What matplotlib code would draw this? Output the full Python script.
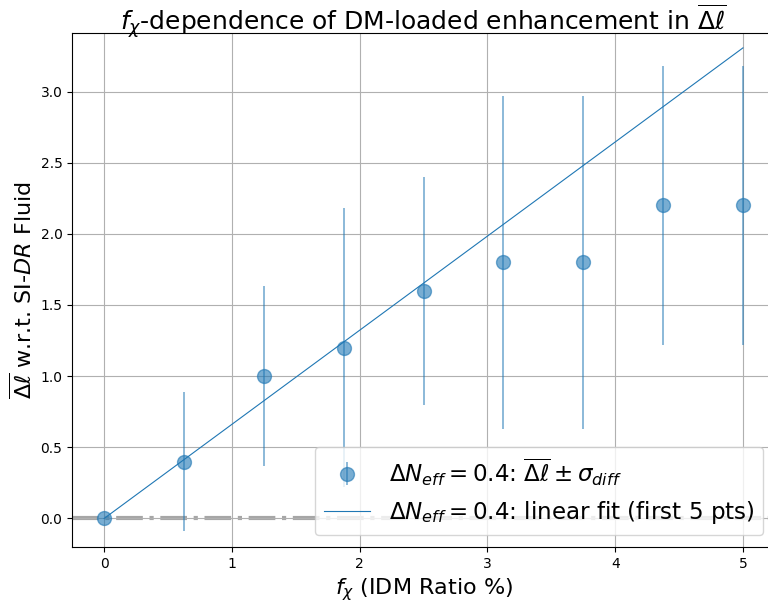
import numpy as np
import matplotlib.pyplot as plt

f_chi = [0, 0.625, 1.25, 1.875, 2.5, 3.125, 3.75, 4.375, 5.0]
dl_mean = [0.0, 0.4, 1.0, 1.2, 1.6, 1.8, 1.8, 2.2, 2.2]
sigma_diff = [0.0, 0.49, 0.63, 0.98, 0.8, 1.17, 1.17, 0.98, 0.98]

x = np.array(f_chi)
y = np.array(dl_mean)
# fit through origin with first 5 points
slope = np.sum(x[:5] * y[:5]) / np.sum(x[:5] ** 2)

fig = plt.figure(figsize=(7.68, 6.03), dpi=100)
ax = fig.add_axes([0.094, 0.093, 0.915, 0.852])

ax.axhline(0, color='grey', linestyle='-.', linewidth=3, alpha=0.7, zorder=1)
eb = ax.errorbar(x, y, yerr=sigma_diff, fmt='o', markersize=10, alpha=0.6,
                 color='C0', elinewidth=1.2,
                 label=r'$\Delta N_{eff}=0.4$: $\overline{\Delta\ell}\pm\sigma_{diff}$')
ln, = ax.plot(x, slope * x, color='C0', linewidth=0.8,
              label=r'$\Delta N_{eff}=0.4$: linear fit (first 5 pts)')

ax.set_xlim(-0.25, 5.25)
ax.set_ylim(-0.2, 3.41)
ax.grid(True)
ax.set_xlabel(r'$f_\chi$ (IDM Ratio %)', fontsize=16)
ax.set_ylabel(r'$\overline{\Delta\ell}$ w.r.t. SI-$DR$ Fluid', fontsize=16)
ax.set_title(r'$f_\chi$-dependence of DM-loaded enhancement in $\overline{\Delta\ell}$',
             fontsize=18, y=1.003, pad=1)
ax.legend(handles=[eb, ln], loc='lower right', fontsize=16.6)

fig.savefig('out.png', dpi=100)
